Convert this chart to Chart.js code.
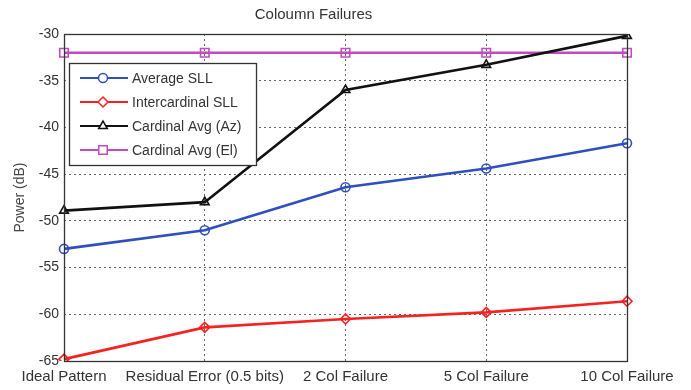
<!DOCTYPE html>
<html>
<head>
<meta charset="UTF-8">
<title>Coloumn Failures</title>
<script src="https://cdn.jsdelivr.net/npm/chart.js"></script>
<style>
  html, body { margin: 0; padding: 0; background: #fff; }
</style>
</head>
<body>
<canvas id="grafico" width="691" height="390"></canvas>
<script>
// categorias e series
var categorias = ['Ideal Pattern', 'Residual Error (0.5 bits)', '2 Col Failure', '5 Col Failure', '10 Col Failure'];
var averageSLL = [-53.0, -51.0, -46.4, -44.4, -41.7];
var intercardinalSLL = [-64.8, -61.4, -60.5, -59.8, -58.6];
var cardinalAz = [-48.9, -48.0, -36.0, -33.3, -30.2];
var cardinalEl = [-32.0, -32.0, -32.0, -32.0, -32.0];
var yTicks = [-30, -35, -40, -45, -50, -55, -60, -65];

var fonte = 'Liberation Sans, Arial, sans-serif';

// caixa em volta da area do grafico + legenda dentro
var caixa = {
  id: 'caixa',
  afterDraw: function (chart) {
    var ctx = chart.ctx, a = chart.chartArea;
    ctx.save();
    ctx.strokeStyle = '#333';
    ctx.lineWidth = 1.3;
    ctx.strokeRect(Math.round(a.left) + 0.5, Math.round(a.top) + 0.5, Math.round(a.right - a.left), Math.round(a.bottom - a.top));

    // legenda
    var x0 = 69, y0 = 63, w = 187, h = 102;
    ctx.fillStyle = '#fff';
    ctx.fillRect(x0, y0, w, h);
    ctx.strokeStyle = '#333';
    ctx.strokeRect(x0 + 0.5, y0 + 0.5, w, h);
    ctx.font = '14px ' + fonte;
    ctx.textBaseline = 'middle';
    chart.data.datasets.forEach(function (ds, i) {
      var y = y0 + 15 + i * 24;
      ctx.strokeStyle = ds.borderColor;
      ctx.lineWidth = 2.2;
      ctx.beginPath();
      ctx.moveTo(x0 + 11, y);
      ctx.lineTo(x0 + 59, y);
      ctx.stroke();
      ctx.fillStyle = '#fff';
      ctx.lineWidth = 1.5;
      Chart.helpers.drawPoint(ctx, {
        pointStyle: ds.pointStyle,
        radius: ds.pointRadius,
        borderWidth: 1.5,
        rotation: 0
      }, x0 + 34, y);
      ctx.fillStyle = '#333';
      ctx.fillText(ds.label, x0 + 63, y + 1);
    });
    ctx.restore();
  }
};

function serie(label, dados, cor, estilo, raio) {
  return {
    label: label,
    data: dados,
    borderColor: cor,
    backgroundColor: cor,
    pointBackgroundColor: 'rgba(0,0,0,0)',
    pointBorderColor: cor,
    pointStyle: estilo,
    pointRadius: raio,
    pointBorderWidth: 1.6,
    borderWidth: 2.6,
    tension: 0
  };
}

var ctx = document.getElementById('grafico').getContext('2d');
var grafico = new Chart(ctx, {
  type: 'line',
  data: {
    labels: categorias,
    datasets: [
      serie('Average SLL', averageSLL, '#2f4fbf', 'circle', 4.5),
      serie('Intercardinal SLL', intercardinalSLL, '#f52222', 'rectRot', 5),
      serie('Cardinal Avg (Az)', cardinalAz, '#111111', 'triangle', 5),
      serie('Cardinal Avg (El)', cardinalEl, '#c04cc0', 'rect', 6)
    ]
  },
  plugins: [caixa],
  options: {
    responsive: false,
    animation: false,
    layout: { padding: { left: 0, right: 64, top: 0, bottom: 0 } },
    plugins: {
      legend: { display: false },
      tooltip: { enabled: false },
      title: {
        display: true,
        text: 'Coloumn Failures',
        color: '#333',
        font: { family: fonte, size: 15, weight: 'normal' },
        padding: { top: 6, bottom: 10 }
      }
    },
    scales: {
      x: {
        type: 'category',
        offset: false,
        grid: { color: '#666', drawTicks: false },
        border: { display: false, dash: [2, 3] },
        ticks: {
          color: '#333',
          maxRotation: 0,
          autoSkip: false,
          padding: 7,
          font: { family: fonte, size: 15 }
        },
        afterFit: function (s) { s.height = 29; }
      },
      y: {
        min: -65,
        max: -30,
        afterBuildTicks: function (s) {
          s.ticks = yTicks.map(function (v) { return { value: v }; });
        },
        grid: { color: '#666', drawTicks: false },
        border: { display: false, dash: [2, 3] },
        ticks: {
          color: '#333',
          padding: 5,
          font: { family: fonte, size: 14 }
        },
        title: {
          display: true,
          text: 'Power (dB)',
          color: '#444',
          font: { family: fonte, size: 14 },
          padding: { top: 12, bottom: 4 }
        },
        afterFit: function (s) { s.width = 64; }
      }
    }
  }
});
</script>
</body>
</html>
